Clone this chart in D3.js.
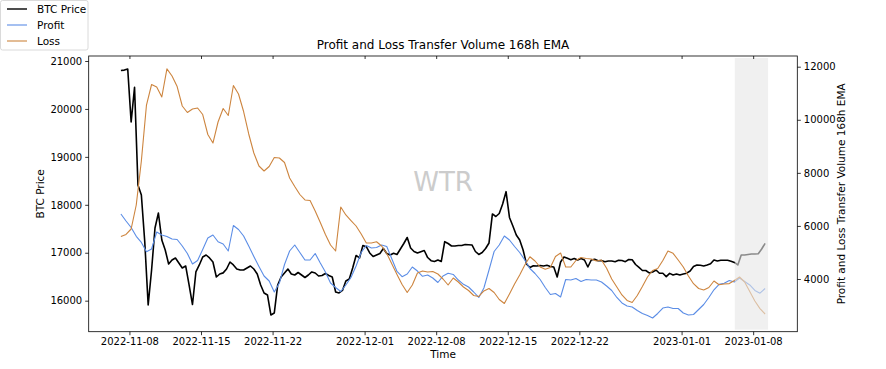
<!DOCTYPE html>
<html lang="en">
<head>
<meta charset="UTF-8">
<title>Profit and Loss Transfer Volume 168h EMA</title>
<script src="https://d3js.org/d3.v7.min.js"></script>
<style>
  body { margin: 0; background: #fff; }
  text { font-family: "DejaVu Sans", sans-serif; fill: #000; }
</style>
</head>
<body>
<svg></svg>
<script>

    var width = 886, height = 369;

    // hourly data sampled from the chart: BTC every 8h, EMAs every 12h
    var btcStart = "2022-11-07T04:00:00Z";
    var btcStepHours = 8;
    var btcPrice = [
        20800, 20810, 20833, 19728, 20450, 18414, 18205, 17224, 15910, 16640,
        17517, 17829, 17266, 17058, 16766, 16849, 16891, 16786, 16682, 16724,
        16328, 15920, 16599, 16745, 16912, 16953, 16891, 16807, 16494, 16557,
        16580, 16661, 16807, 16745, 16661, 16640, 16640, 16682, 16724, 16661,
        16557, 16328, 16161, 16119, 15702, 15743, 16328, 16494, 16578, 16661,
        16557, 16536, 16588, 16536, 16484, 16536, 16599, 16578, 16515, 16525,
        16567, 16525, 16494, 16181, 16161, 16213, 16411, 16453, 16682, 16943,
        16891, 17151, 17126, 16995, 16922, 16953, 16985, 17089, 16985, 16953,
        16989, 16964, 17078, 17193, 17318, 17099, 17026, 16995, 17022, 17047,
        16900, 16834, 16818, 16849, 16818, 17231, 17193, 17141, 17141, 17151,
        17151, 17172, 17168, 17162, 17026, 16964, 17005, 17089, 17204, 17809,
        17756, 17819, 18017, 18274, 17736, 17558, 17370, 17266, 17058, 16766,
        16693, 16728, 16724, 16734, 16724, 16738, 16713, 16703, 16494, 16807,
        16912, 16884, 16855, 16880, 16849, 16880, 16849, 16703, 16849, 16864,
        16834, 16838, 16814, 16828, 16828, 16814, 16843, 16838, 16814, 16859,
        16855, 16755, 16693, 16630, 16630, 16578, 16599, 16640, 16572, 16572,
        16501, 16570, 16536, 16557, 16536, 16557, 16574, 16620, 16713, 16745,
        16738, 16724, 16745, 16770, 16849, 16828, 16843, 16843, 16843, 16824,
        16797, 16745, 16953, 16953, 16964, 16974, 16974, 16980, 17078, 17197
    ];

    var emaStart = "2022-11-07T04:00:00Z";
    var emaStepHours = 12;
    var profitEma = [
        6449, 6185, 5941, 5609, 5379, 5029, 5130, 5771, 5658, 5601,
        5507, 5488, 5243, 4961, 4565, 4697, 5112, 5545, 5658, 5405,
        5319, 5055, 6016, 5865, 5620, 5243, 4848, 4471, 4113, 3925,
        3510, 3849, 4546, 5055, 5281, 4999, 4716, 4716, 4961, 4603,
        4264, 3849, 3680, 3529, 3774, 4057, 4490, 4999, 5262, 5168,
        5187, 5281, 5225, 4754, 4283, 4087, 4188, 4452, 4301, 4102,
        4151, 4038, 3868, 4113, 4215, 4170, 3962, 3800, 3699, 3510,
        3303, 3661, 4339, 5036, 5281, 5620, 5470, 5225, 4999, 4716,
        4396, 4207, 3981, 3680, 3416, 3454, 3322, 3981, 3962, 4019,
        3906, 3981, 3962, 3962, 3887, 3736, 3567, 3303, 3096, 2983,
        2945, 2813, 2700, 2625, 2530, 2700, 2907, 2945, 2888, 2888,
        2719, 2644, 2662, 2851, 3039, 3303, 3593, 3800, 3842, 3943,
        3887, 4038, 3906, 3774, 3567, 3465, 3642
    ];
    var lossEma = [
        5601, 5681, 5884, 6788, 8446, 10556, 11329, 11235, 10858, 11920,
        11649, 11253, 10519, 10274, 10406, 10443, 10198, 9445, 9124, 9916,
        10424, 10161, 11291, 10971, 10311, 9464, 8748, 8258, 8069, 8239,
        8578, 8559, 8390, 7806, 7485, 7184, 6977, 6958, 6562, 6129,
        5677, 5281, 5055, 6713, 6412, 6204, 5997, 5696, 5356, 5356,
        5405, 5243, 4961, 4565, 4170, 3793, 3491, 3774, 4226, 4301,
        4264, 4283, 4188, 4000, 3774, 4038, 3887, 3699, 3567, 3378,
        3341, 3548, 3642, 3491, 3228, 3077, 3435, 3812, 4151, 4528,
        4840, 4678, 4452, 4365, 4433, 4848, 4980, 4452, 4452, 4697,
        4810, 4772, 4754, 4678, 4716, 4403, 4000, 3699, 3397, 3190,
        3115, 3378, 3717, 4075, 4320, 4396, 4697, 5055, 4968, 4716,
        4452, 4113, 3823, 3642, 3586, 3680, 3925, 3785, 3812, 3827,
        3943, 4075, 3887, 3529, 3171, 2885, 2681
    ];

    var xTickLabels = ["2022-11-08", "2022-11-15", "2022-11-22", "2022-12-01", "2022-12-08",
                       "2022-12-15", "2022-12-22", "2023-01-01", "2023-01-08"];
    var leftTicks = [16000, 17000, 18000, 19000, 20000, 21000];
    var rightTicks = [4000, 6000, 8000, 10000, 12000];
    var shadeRange = ["2023-01-06T05:00:00Z", "2023-01-09T11:00:00Z"];

    var legendNames = ["BTC Price", "Profit", "Loss"];
    var colors = {"BTC Price": "#000000", "Profit": "#5b8de6", "Loss": "#cd853f"};

    var m = {left: 88.7, right: 797.3, top: 56, bottom: 331.7};

    var svg = d3.select("svg").attr("width", width).attr("height", height);

    var hour = 3600 * 1000;
    var btcData = btcPrice.map(function (v, i) {
        return {t: new Date(Date.parse(btcStart) + i * btcStepHours * hour), v: v};
    });
    var profitData = profitEma.map(function (v, i) {
        return {t: new Date(Date.parse(emaStart) + i * emaStepHours * hour), v: v};
    });
    var lossData = lossEma.map(function (v, i) {
        return {t: new Date(Date.parse(emaStart) + i * emaStepHours * hour), v: v};
    });

    // matplotlib-like 5% margins on the time axis
    var t0 = btcData[0].t.getTime(), t1 = btcData[btcData.length - 1].t.getTime();
    var pad = (t1 - t0) * 0.05;

    var x = d3.scaleUtc()
        .domain([new Date(t0 - pad), new Date(t1 + pad)])
        .range([m.left, m.right]);

    var yLeft = d3.scaleLinear().domain([15353, 21104]).range([m.bottom, m.top]);
    var yRight = d3.scaleLinear().domain([2014, 12403]).range([m.bottom, m.top]);

    // watermark
    svg.append("text")
        .attr("x", (m.left + m.right) / 2).attr("y", 191)
        .attr("text-anchor", "middle")
        .style("font-size", "26px").style("fill", "#cccccc")
        .text("WTR");

    var lineL = d3.line().x(function (d) { return x(d.t); }).y(function (d) { return yLeft(d.v); });
    var lineR = d3.line().x(function (d) { return x(d.t); }).y(function (d) { return yRight(d.v); });

    svg.append("path").datum(btcData).attr("d", lineL)
        .attr("fill", "none").attr("stroke", colors["BTC Price"]).attr("stroke-width", 1.6)
        .attr("stroke-linejoin", "round");
    svg.append("path").datum(profitData).attr("d", lineR)
        .attr("fill", "none").attr("stroke", colors["Profit"]).attr("stroke-width", 1.1)
        .attr("stroke-linejoin", "round");
    svg.append("path").datum(lossData).attr("d", lineR)
        .attr("fill", "none").attr("stroke", colors["Loss"]).attr("stroke-width", 1.1)
        .attr("stroke-linejoin", "round");

    // light band over the last days
    svg.append("rect")
        .attr("x", x(new Date(shadeRange[0])))
        .attr("width", x(new Date(shadeRange[1])) - x(new Date(shadeRange[0])))
        .attr("y", m.top + 2).attr("height", m.bottom - m.top - 4)
        .attr("fill", "#e6e6e6").attr("opacity", 0.6);

    // axes
    var xTicks = xTickLabels.map(function (s) { return new Date(s + "T00:00:00Z"); });
    var fmt = d3.utcFormat("%Y-%m-%d");

    var gx = svg.append("g").attr("transform", "translate(0," + m.bottom + ")")
        .call(d3.axisBottom(x).tickValues(xTicks).tickFormat(fmt).tickSizeInner(3.5).tickSizeOuter(0).tickPadding(3));
    var gxTop = svg.append("g").attr("transform", "translate(0," + m.top + ")")
        .call(d3.axisBottom(x).tickValues(xTicks).tickFormat("").tickSizeInner(3).tickSizeOuter(0));
    var gl = svg.append("g").attr("transform", "translate(" + m.left + ",0)")
        .call(d3.axisLeft(yLeft).tickValues(leftTicks).tickFormat(d3.format("d")).tickSizeInner(3.5).tickSizeOuter(0).tickPadding(3));
    var gr = svg.append("g").attr("transform", "translate(" + m.right + ",0)")
        .call(d3.axisRight(yRight).tickValues(rightTicks).tickFormat(d3.format("d")).tickSizeInner(3.5).tickSizeOuter(0).tickPadding(3));

    [gx, gxTop, gl, gr].forEach(function (g) {
        g.select(".domain").remove();
        g.selectAll("line").attr("stroke", "#000").attr("stroke-width", 0.8);
        g.selectAll("text").style("font-size", "10px").style("font-family", "DejaVu Sans");
    });

    // frame
    svg.append("rect")
        .attr("x", m.left).attr("y", m.top)
        .attr("width", m.right - m.left).attr("height", m.bottom - m.top)
        .attr("fill", "none").attr("stroke", "#000").attr("stroke-width", 0.8);

    // titles and labels
    svg.append("text").attr("x", (m.left + m.right) / 2).attr("y", 49)
        .attr("text-anchor", "middle").style("font-size", "12px")
        .text("Profit and Loss Transfer Volume 168h EMA");
    svg.append("text").attr("x", (m.left + m.right) / 2).attr("y", 358)
        .attr("text-anchor", "middle").style("font-size", "10.5px")
        .text("Time");
    svg.append("text")
        .attr("transform", "translate(44," + (m.top + m.bottom) / 2 + ") rotate(-90)")
        .attr("text-anchor", "middle").style("font-size", "10.5px")
        .text("BTC Price");
    svg.append("text")
        .attr("transform", "translate(845," + (m.top + m.bottom) / 2 + ") rotate(-90)")
        .attr("text-anchor", "middle").style("font-size", "10.5px")
        .text("Profit and Loss Transfer Volume 168h EMA");

    // legend
    var lg = svg.append("g");
    lg.append("rect").attr("x", 0.5).attr("y", 0.5).attr("width", 87.5).attr("height", 49.5)
        .attr("rx", 2).attr("fill", "#fff").attr("stroke", "#d0d0d0").attr("stroke-width", 0.8);
    legendNames.forEach(function (name, i) {
        var yy = 9 + i * 16;
        lg.append("line").attr("x1", 7).attr("x2", 27).attr("y1", yy).attr("y2", yy)
            .attr("stroke", colors[name]).attr("stroke-width", name === "BTC Price" ? 1.4 : 1.1);
        lg.append("text").attr("x", 37).attr("y", yy + 3.6).style("font-size", "10.5px").text(name);
    });
</script>
</body>
</html>
